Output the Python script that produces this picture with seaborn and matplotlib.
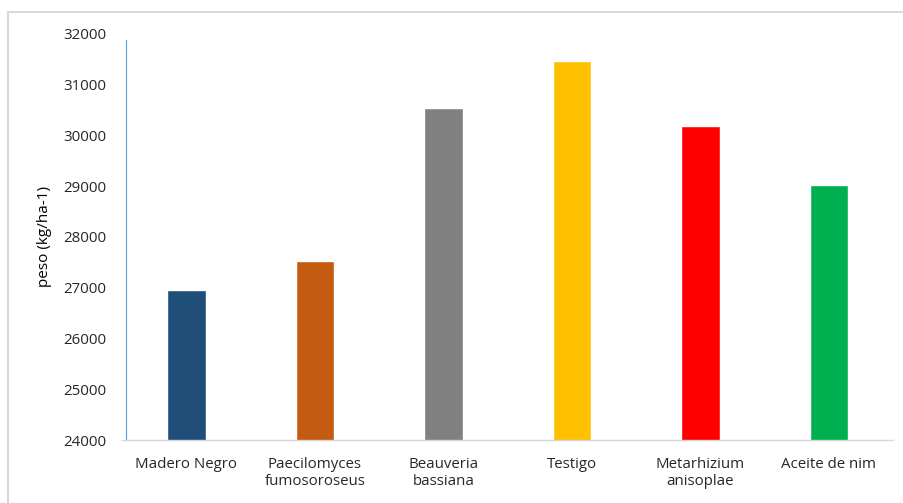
import matplotlib
matplotlib.use("Agg")
import matplotlib.pyplot as plt
import seaborn as sns
import pandas as pd
from matplotlib.patches import Rectangle

tratamientos = ["Madero Negro", "Paecilomyces\nfumosoroseus", "Beauveria\nbassiana",
                "Testigo", "Metarhizium\nanisoplae", "Aceite de nim"]
peso = [26960, 27520, 30540, 31460, 30180, 29030]
colores = ["#1F4E79", "#C55A11", "#808080", "#FFC000", "#FF0000", "#00B050"]

df = pd.DataFrame({"tratamiento": tratamientos, "peso": peso})

sns.set_theme(style="white")
plt.rcParams["font.family"] = ["Open Sans", "DejaVu Sans"]

fig = plt.figure(figsize=(9.04, 5.03), dpi=100)
ax = fig.add_axes([0.135, 0.125, 0.853, 0.808])

sns.barplot(data=df, x="tratamiento", y="peso", hue="tratamiento",
            palette=colores, legend=False, width=0.30, saturation=1, ax=ax)

ax.set_ylim(24000, 32000)
ax.set_yticks(range(24000, 32001, 1000))
ax.set_xlabel("")
ax.set_ylabel("peso (kg/ha-1)", fontsize=11, color="#000000", labelpad=8)
ax.tick_params(axis="y", length=0, pad=14, labelsize=10.8, labelcolor="#262626")
ax.tick_params(axis="x", length=0, pad=12, labelsize=10.8, labelcolor="#262626")

for s in ["top", "right"]:
    ax.spines[s].set_visible(False)
ax.spines["bottom"].set_color("#D9D9D9")
ax.spines["bottom"].set_linewidth(1.0)
ax.spines["left"].set_color("#5B9BD5")
ax.spines["left"].set_linewidth(0.8)
ax.spines["left"].set_position(("axes", 0.005))
ax.spines["left"].set_bounds(24000, 31880)

# marco del area del grafico
fig.patches.append(Rectangle((8 / 904, -0.05), 1.0, 1 - 12 / 503 + 0.05,
                             transform=fig.transFigure, fill=False,
                             edgecolor="#D9D9D9", linewidth=1.5))

fig.savefig("out.png", dpi=100)
